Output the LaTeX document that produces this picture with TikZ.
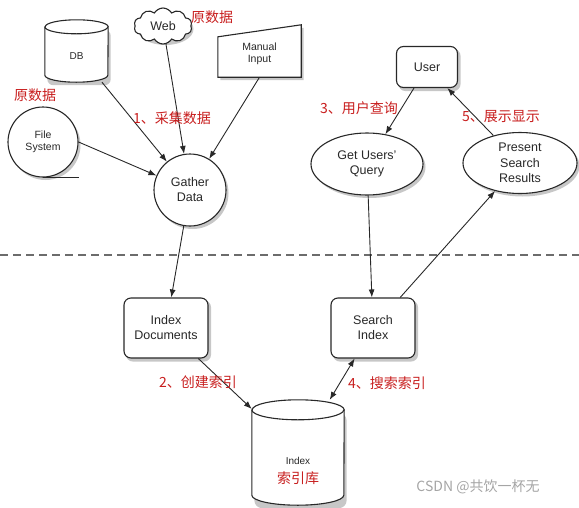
\documentclass[tikz,border=0pt]{standalone}
\usepackage{fontspec}
\setmainfont{Liberation Sans}
\newfontfamily\cjk{Noto Sans CJK SC}
\usepackage{tikz}
\usetikzlibrary{arrows.meta,positioning,shapes.geometric,shapes.symbols,calc,backgrounds}
\definecolor{inkgray}{RGB}{40,40,40}
\definecolor{notered}{RGB}{200,30,30}
\definecolor{markgray}{RGB}{165,165,165}

% drum outline round a named box: name, x radius, y radius
\newcommand{\drumshape}[3]{%
  \path[base] ($(#1.north west)+(0,-#3)$) -- ($(#1.south west)+(0,#3)$)
      arc[start angle=180, end angle=360, x radius=#2, y radius=#3]
      -- ($(#1.north east)+(0,-#3)$)
      arc[start angle=0, end angle=180, x radius=#2, y radius=#3] -- cycle;
  \draw[rim] ($(#1.north west)+(0,-#3)$) arc[start angle=180, end angle=360, x radius=#2, y radius=#3];
}

\begin{document}
\begin{tikzpicture}[x=1pt, y=1pt,
    base/.style={draw=inkgray, line width=1.1pt, fill=white, align=center, text=inkgray,
                 font=\fontsize{12.5}{15}\selectfont},
    rim/.style={draw=inkgray, line width=1.1pt},
    plain/.style={inner sep=0pt, align=center, text=inkgray, font=\fontsize{10.5}{12.5}\selectfont},
    proc/.style={base, circle, inner sep=0pt},
    stepbox/.style={base, rectangle, rounded corners=7pt, inner sep=0pt},
    oval/.style={base, ellipse, inner sep=0pt},
    arrow/.style={-{Latex[length=8pt,width=6pt]}, line width=0.9pt, draw=inkgray},
    note/.style={text=notered, font=\cjk\fontsize{14}{16}\selectfont, inner sep=0pt},
    shadowfill/.style={fill=black!22}
]
    \useasboundingbox (0,0) rectangle (579,-507);

    % Sources
    \node[inner sep=0pt, minimum width=63, minimum height=62] (db) at (76.5,-51) {};
    \drumshape{db}{31.5}{7}
    \node[plain, font=\fontsize{10}{12}\selectfont] (dbname) at ($(db)+(0,-5)$) {DB};
    \node[base, cloud, cloud puffs=10, cloud puff arc=120, aspect=1.6, minimum width=58, minimum height=36, inner sep=0pt] (web) at (163,-26) {Web};
    \node[inner sep=0pt, minimum width=83, minimum height=46] (manualbox) at (259.5,-54) {};
    \path[base] (manualbox.south west) -- (manualbox.south east) -- ($(manualbox.north east)+(0,6)$)
        -- ($(manualbox.north west)+(0,-6)$) -- cycle;
    \node[plain] (manual) at (manualbox) {Manual\\Input};
    \node[proc, minimum size=70, font=\fontsize{10.5}{12.5}\selectfont] (fs) at (43,-142) {File\\System};
    \draw[rim] (fs.south) -- ++(36,0);
    \node[proc, minimum size=72] (gather) at (190,-190) {Gather\\Data};

    % Query side
    \node[stepbox, minimum width=61, minimum height=41] (user) at (427,-67) {User};
    \node[oval, minimum width=112, minimum height=62] (query) at (367,-164) {Get Users'\\Query};
    \node[oval, minimum width=114, minimum height=61, font=\fontsize{12.5}{15.5}\selectfont] (present) at (520,-163) {Present\\Search\\Results};

    % Separator
    \coordinate (sepL) at (0,-255);
    \coordinate (sepR) at (579,-255);
    \draw[dashed, dash pattern=on 8pt off 5pt, line width=1.4pt, draw=gray!85!black] (sepL) -- (sepR);

    % Index side
    \node[stepbox, minimum width=84, minimum height=60] (indexdoc) at (166,-328) {Index\\Documents};
    \node[stepbox, minimum width=84, minimum height=60] (search) at (373,-328) {Search\\Index};
    \node[inner sep=0pt, minimum width=92, minimum height=105] (index) at (298,-452.5) {};
    \drumshape{index}{46}{10}
    \node[plain, font=\fontsize{10}{12}\selectfont] (indexname) at (298,-471)
        {Index\\[7pt]{\cjk\color{notered}\fontsize{14}{16}\selectfont 索引库}};

    % Shadows
    \begin{scope}[on background layer]
    \fill[shadowfill] ($(gather)+(2.5,-3)$) circle[radius=36];
    \fill[shadowfill] ($(fs)+(2.5,-3)$) circle[radius=35];
    \fill[shadowfill] ($(web)+(2.5,-3)$) ellipse[x radius=28, y radius=16];
    \fill[shadowfill] ($(query)+(2.5,-3)$) ellipse[x radius=56, y radius=31];
    \fill[shadowfill] ($(present)+(2.5,-3)$) ellipse[x radius=57, y radius=30.5];
    \foreach \n in {user,indexdoc,search}
        \fill[shadowfill, rounded corners=7pt] ($(\n.south west)+(2.5,-3)$) rectangle ($(\n.north east)+(2.5,-3)$);
    \fill[shadowfill, rounded corners=6pt] ($(db.south west)+(2.5,-3)$) rectangle ($(db.north east)+(2.5,-10)$);
    \fill[shadowfill, rounded corners=8pt] ($(index.south west)+(2.5,-3)$) rectangle ($(index.north east)+(2.5,-13)$);
    \fill[shadowfill] ($(manualbox.south west)+(2.5,-3)$) -- ($(manualbox.south east)+(2.5,-3)$)
        -- ($(manualbox.north east)+(2.5,3)$) -- ($(manualbox.north west)+(2.5,-9)$) -- cycle;
    \end{scope}

    % Arrows
    \draw[arrow] (db) -- (gather);
    \draw[arrow] (web) -- (gather);
    \draw[arrow] (manualbox.south) -- (gather);
    \draw[arrow] (fs.east) -- (gather);
    \draw[arrow] (gather) -- (indexdoc);
    \draw[arrow] (indexdoc) -- (index);
    \draw[arrow, {Latex[length=8pt,width=6pt]}-{Latex[length=8pt,width=6pt]}] (search) -- (index);
    \draw[arrow] (user) -- (query);
    \draw[arrow] (query) -- (search);
    \draw[arrow] (search) -- (present);
    \draw[arrow] (present) -- (user);

    % Notes
    \node[note] (srcweb) at (212,-17) {原数据};
    \node[note] (srcfs) at (35,-95) {原数据};
    \node[note] (step1) at (172,-118) {1、采集数据};
    \node[note] (step2) at (198,-382) {2、创建索引};
    \node[note] (step3) at (359,-108) {3、用户查询};
    \node[note] (step4) at (387,-383) {4、搜索索引};
    \node[note] (step5) at (501,-117) {5、展示显示};
    \node[text=markgray, font=\cjk\fontsize{14}{16}\selectfont, inner sep=0pt] (mark) at (478,-487) {CSDN @共饮一杯无};
\end{tikzpicture}
\end{document}
